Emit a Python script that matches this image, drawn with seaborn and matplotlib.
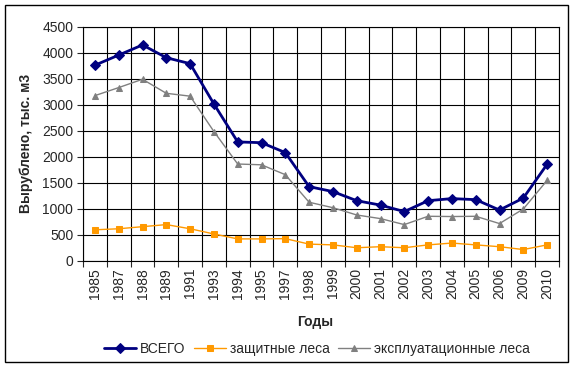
import matplotlib
matplotlib.use("Agg")
import matplotlib.pyplot as plt
from matplotlib.patches import Rectangle
from matplotlib.ticker import FixedLocator, NullFormatter, FixedFormatter
import numpy as np
import pandas as pd
import seaborn as sns

sns.set_style("white")
plt.rcParams['font.family'] = ['Liberation Sans', 'DejaVu Sans']

# data
years = ['1985', '1987', '1988', '1989', '1991', '1993', '1994', '1995', '1997', '1998',
         '1999', '2000', '2001', '2002', '2003', '2004', '2005', '2006', '2009', '2010']
total = [3765, 3960, 4155, 3910, 3795, 3020, 2290, 2275, 2085, 1430,
         1335, 1160, 1075, 950, 1160, 1200, 1180, 980, 1210, 1860]
protect = [600, 620, 660, 700, 620, 520, 425, 425, 430, 325,
           310, 255, 275, 255, 310, 345, 310, 275, 220, 310]
exploit = [3180, 3335, 3495, 3225, 3170, 2490, 1865, 1850, 1660, 1130,
           1025, 885, 815, 700, 860, 855, 860, 720, 1000, 1550]

pos = np.arange(len(years))
df = pd.DataFrame({"pos": pos, "ВСЕГО": total, "защитные леса": protect,
                   "эксплуатационные леса": exploit})

fig = plt.figure(figsize=(5.75, 3.68), dpi=100)
ax = fig.add_axes([83 / 575, 1 - 261 / 368, 476 / 575, 234 / 368])

sns.lineplot(data=df, x="pos", y="ВСЕГО", ax=ax, color="#000080", lw=2,
             marker="D", markersize=5.5, markeredgecolor="#000080", label="ВСЕГО")
sns.lineplot(data=df, x="pos", y="защитные леса", ax=ax, color="#FF9900", lw=1,
             marker="s", markersize=4.2, markeredgecolor="#FF9900", label="защитные леса")
sns.lineplot(data=df, x="pos", y="эксплуатационные леса", ax=ax, color="#808080", lw=1,
             marker="^", markersize=5, markeredgecolor="#808080",
             label="эксплуатационные леса")

ax.set_xlim(-0.5, len(years) - 0.5)
ax.set_ylim(0, 4500)
ax.set_yticks(np.arange(0, 4501, 500))
ax.tick_params(axis="y", direction="out", length=4, width=0.8, labelsize=10, pad=3, left=True)

# category boundaries carry ticks + grid, centres carry labels
ax.xaxis.set_major_locator(FixedLocator(np.arange(-0.5, len(years), 1.0)))
ax.xaxis.set_major_formatter(NullFormatter())
ax.xaxis.set_minor_locator(FixedLocator(pos))
ax.xaxis.set_minor_formatter(FixedFormatter(years))
ax.tick_params(axis="x", which="major", direction="out", length=4, width=0.8, bottom=True)
ax.tick_params(axis="x", which="minor", length=0, labelsize=10, rotation=90, pad=5)

ax.grid(True, which="major", color="black", lw=0.8)
for s in ax.spines.values():
    s.set_color("black")
    s.set_linewidth(0.8)

ax.set_xlabel("Годы", fontsize=10, fontweight="bold", va="top")
ax.xaxis.set_label_coords(0.487, -0.232)
ax.set_ylabel("Вырублено, тыс. м3", fontsize=10, fontweight="bold")
ax.yaxis.set_label_coords(-0.105, 0.504)

ax.legend(loc="center", bbox_to_anchor=(317 / 575, 1 - 349 / 368),
          bbox_transform=fig.transFigure, ncol=3, frameon=False, fontsize=10,
          handlelength=2.3, columnspacing=0.6, handletextpad=0.3)

fig.patches.append(Rectangle((5 / 575, 1 - 362 / 368), 563 / 575, 357 / 368,
                             transform=fig.transFigure, fill=False,
                             edgecolor="black", lw=1.0))

fig.savefig("out.png", dpi=100)
